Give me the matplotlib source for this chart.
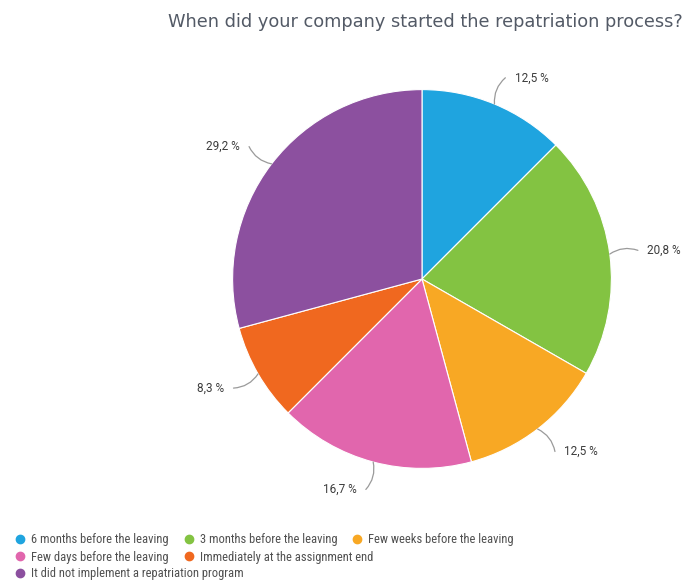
import numpy as np
import matplotlib.pyplot as plt
from matplotlib.lines import Line2D

# survey answers, in the order they go round the pie (clockwise from 12 o'clock)
answers = [
    "6 months before the leaving",
    "3 months before the leaving",
    "Few weeks before the leaving",
    "Few days before the leaving",
    "Immediately at the assignment end",
    "It did not implement a repatriation program",
]
shares = [12.5, 20.8, 12.5, 16.7, 8.3, 29.2]
colors = ["#1fa4df", "#83c342", "#f8a824", "#e166ad", "#f0681f", "#8c509f"]
legend_rows = [[0, 1, 2], [3, 4], [5]]

TITLE = "When did your company started the repatriation process?"
NARROW = ["Roboto Condensed", "Liberation Sans Narrow", "Roboto", "DejaVu Sans"]

W, H = 691, 587
fig = plt.figure(figsize=(W / 100, H / 100), dpi=100)

# pie centre at (422, 279) px, radius ~189 px
cx, cy, half = 422, 279, 250
ax = fig.add_axes([(cx - half) / W, (H - cy - half) / H, 2 * half / W, 2 * half / H])

wedges, _ = ax.pie(
    shares, colors=colors, startangle=90, counterclock=False, radius=1.0,
    wedgeprops=dict(edgecolor="white", linewidth=0.8),
)
lim = 1.32
ax.set_xlim(-lim, lim)
ax.set_ylim(-lim, lim)
ax.set_aspect("equal")
ax.axis("off")

# percent labels with small curved leader lines
for w, v in zip(wedges, shares):
    ang = np.deg2rad((w.theta1 + w.theta2) / 2)
    ca, sa = np.cos(ang), np.sin(ang)
    right = ca >= 0
    p0 = (1.0 * ca, 1.0 * sa)
    p1 = (1.15 * ca, 1.15 * sa)
    ax.annotate(
        "", xy=p0, xytext=p1,
        arrowprops=dict(arrowstyle="-", color="#9a9a9a", lw=0.9,
                        connectionstyle="arc3,rad=0.25", shrinkA=0, shrinkB=0),
    )
    tx = p1[0] + (0.05 if right else -0.05)
    ax.text(tx, p1[1], f"{v:.1f} %".replace(".", ","), ha="left" if right else "right",
            va="center", fontsize=8.5, family="Roboto", color="#3c3c3c")

fig.text(683 / W, 1 - 22 / H, TITLE, ha="right", va="center",
         fontsize=12.8, color="#535a66", family="DejaVu Sans")

# legend laid out as flowing rows
row_y = [540, 557, 574]
for row, y in zip(legend_rows, row_y):
    handles = [Line2D([], [], marker="o", ls="none", markersize=6,
                      markerfacecolor=colors[i], markeredgecolor=colors[i])
               for i in row]
    leg = fig.legend(
        handles, [answers[i] for i in row], ncol=len(row),
        loc="center left", bbox_to_anchor=(16 / W, 1 - y / H),
        frameon=False, handlelength=0.6, handletextpad=0.6,
        columnspacing=1.3, borderpad=0, borderaxespad=0,
        prop=dict(family=NARROW, size=9),
    )
    for t in leg.get_texts():
        t.set_color("#505050")

fig.savefig("out.png", dpi=100)
